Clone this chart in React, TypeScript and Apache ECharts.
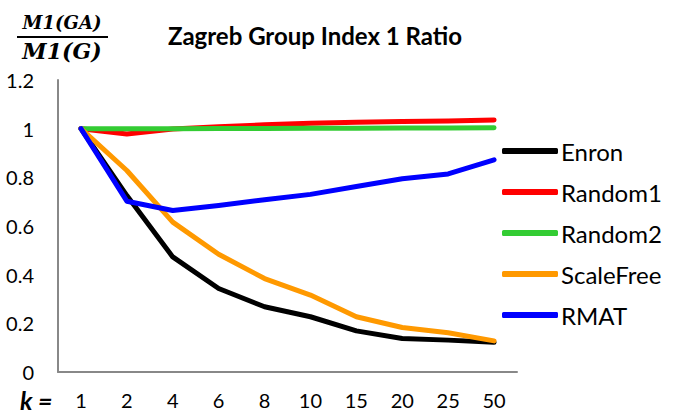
import React, { useEffect, useRef } from "react";
import * as echarts from "echarts";

const categories = ["1", "2", "4", "6", "8", "10", "15", "20", "25", "50"];
const enron = [1, 0.725, 0.473, 0.343, 0.268, 0.227, 0.169, 0.138, 0.131, 0.122];
const random1 = [1, 0.978, 0.999, 1.008, 1.016, 1.022, 1.026, 1.029, 1.031, 1.036];
const random2 = [1, 1, 1, 1.001, 1.001, 1.002, 1.002, 1.003, 1.003, 1.004];
const scaleFree = [1, 0.828, 0.616, 0.484, 0.384, 0.316, 0.227, 0.183, 0.161, 0.128];
const rmat = [1, 0.702, 0.664, 0.684, 0.708, 0.73, 0.762, 0.794, 0.814, 0.872];
const yTicks = { min: 0, max: 1.2, interval: 0.2 };

const FONT = "Lato, 'Open Sans', sans-serif";

export default function App() {
  const ref = useRef<HTMLDivElement>(null);
  useEffect(() => {
    if (!ref.current) return;
    const chart = echarts.init(ref.current, undefined, { renderer: "svg" });
    const mk = (name: string, data: number[], color: string) => ({
      name,
      type: "line",
      data,
      showSymbol: false,
      symbol: "none",
      lineStyle: { width: 5, color, cap: "round", join: "round" },
      itemStyle: { color },
    });
    chart.setOption({
      animation: false,
      textStyle: { fontFamily: FONT },
      grid: { left: 58, right: 163, top: 80, bottom: 43 },
      xAxis: {
        type: "category",
        data: categories,
        boundaryGap: true,
        axisLine: { show: true, lineStyle: { color: "#888", width: 2 } },
        axisTick: { show: false },
        axisLabel: { color: "#000", fontSize: 20, margin: 18, fontFamily: FONT },
        splitLine: { show: false },
      },
      yAxis: {
        type: "value",
        min: yTicks.min,
        max: yTicks.max,
        interval: yTicks.interval,
        axisLine: { show: true, lineStyle: { color: "#888", width: 2 } },
        axisTick: { show: false },
        axisLabel: { color: "#000", fontSize: 20, margin: 24, fontFamily: FONT },
        splitLine: { show: false },
      },
      legend: {
        orient: "vertical",
        left: 497,
        top: 134,
        itemWidth: 56,
        itemHeight: 6,
        itemGap: 17,
        icon: "roundRect",
        textStyle: { fontSize: 24, color: "#000", fontFamily: FONT, padding: [0, 0, 0, -2] },
        data: ["Enron", "Random1", "Random2", "ScaleFree", "RMAT"],
      },
      graphic: [
        {
          type: "text",
          x: 315,
          y: 35,
          style: {
            text: "Zagreb Group Index 1 Ratio",
            fontSize: 24,
            fontWeight: "bold",
            fill: "#000",
            fontFamily: FONT,
            align: "center",
            verticalAlign: "middle",
          },
        },
        {
          type: "text",
          x: 62,
          y: 22,
          style: {
            text: "M1(GA)",
            fontSize: 18,
            fontWeight: "bold",
            fontStyle: "italic",
            fontFamily: "'DejaVu Serif', serif",
            fill: "#000",
            align: "center",
            verticalAlign: "middle",
          },
        },
        {
          type: "line",
          shape: { x1: 17, y1: 37, x2: 108, y2: 37 },
          style: { stroke: "#000", lineWidth: 2 },
        },
        {
          type: "text",
          x: 62,
          y: 51,
          style: {
            text: "M1(G)",
            fontSize: 22,
            fontWeight: "bold",
            fontStyle: "italic",
            fontFamily: "'DejaVu Serif', serif",
            fill: "#000",
            align: "center",
            verticalAlign: "middle",
          },
        },
        {
          type: "text",
          x: 20,
          y: 400,
          style: {
            text: "k =",
            fontSize: 25,
            fontWeight: "bold",
            fontStyle: "italic",
            fontFamily: FONT,
            fill: "#000",
            verticalAlign: "middle",
          },
        },
      ],
      series: [
        mk("Enron", enron, "#000000"),
        mk("Random1", random1, "#ff0000"),
        mk("Random2", random2, "#33cc33"),
        mk("ScaleFree", scaleFree, "#ff9900"),
        mk("RMAT", rmat, "#0000ff"),
      ],
    });
    return () => chart.dispose();
  }, []);
  return <div ref={ref} style={{ width: 680, height: 415, position: "absolute", left: 0, top: 0 }} />;
}
